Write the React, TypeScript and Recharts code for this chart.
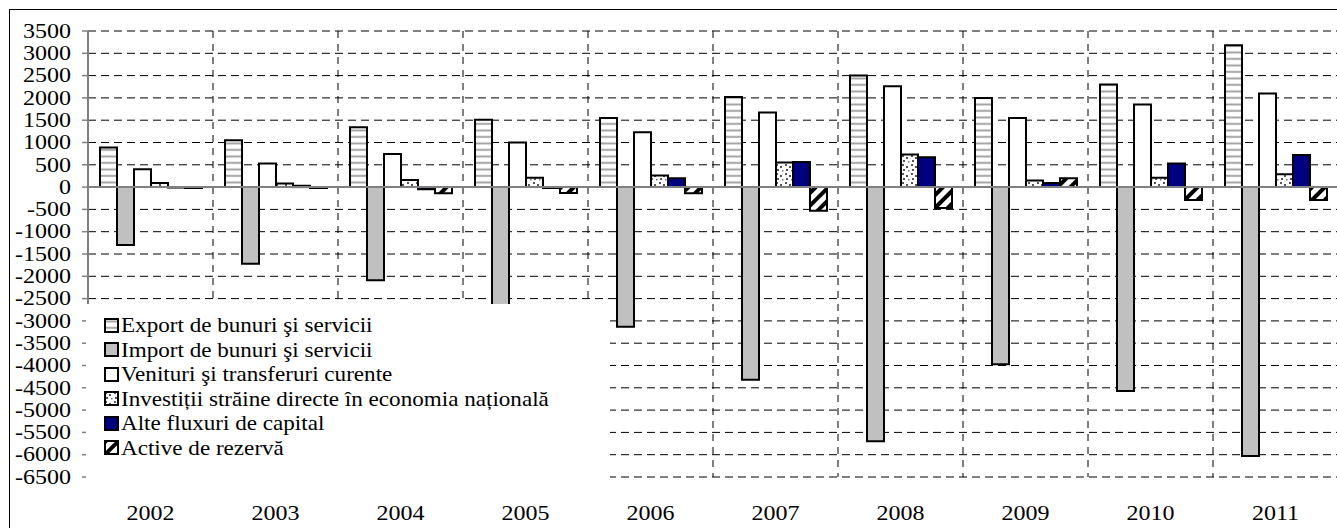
import {
  BarChart,
  Bar,
  XAxis,
  YAxis,
  CartesianGrid,
  Legend,
  ReferenceLine,
} from 'recharts';

// Balance of payments components, mil. USD
const years = ['2002', '2003', '2004', '2005', '2006', '2007', '2008', '2009', '2010', '2011'];
const exportVals = [890, 1050, 1340, 1510, 1550, 2020, 2500, 2000, 2300, 3180];
const importVals = [-1300, -1720, -2090, -2850, -3130, -4320, -5700, -3970, -4570, -6030];
const venituriVals = [400, 530, 740, 1000, 1230, 1670, 2260, 1550, 1850, 2100];
const investitiiVals = [90, 80, 160, 210, 260, 550, 730, 150, 210, 290];
const alteVals = [-10, 30, -50, -20, 200, 560, 670, 90, 530, 720];
const activeVals = [-20, -20, -140, -130, -140, -530, -470, 200, -290, -290];
const yTicks = [
  3500, 3000, 2500, 2000, 1500, 1000, 500, 0, -500, -1000, -1500, -2000, -2500,
  -3000, -3500, -4000, -4500, -5000, -5500, -6000, -6500,
];

const data = years.map((year, i) => ({
  year,
  export: exportVals[i],
  import: importVals[i],
  venituri: venituriVals[i],
  investitii: investitiiVals[i],
  alte: alteVals[i],
  active: activeVals[i],
}));

const series = [
  { key: 'export', name: 'Export de bunuri şi servicii', fill: 'url(#pat-export)' },
  { key: 'import', name: 'Import de bunuri şi servicii', fill: '#c0c0c0' },
  { key: 'venituri', name: 'Venituri şi transferuri curente', fill: '#ffffff' },
  { key: 'investitii', name: 'Investiții străine directe în economia națională', fill: 'url(#pat-dots)' },
  { key: 'alte', name: 'Alte fluxuri de capital', fill: '#000080' },
  { key: 'active', name: 'Active de rezervă', fill: 'url(#pat-diag)' },
];

const serif = "'Liberation Serif', 'Times New Roman', Times, serif";
const STRETCH = 1.2; // axis digits in the original are a bit wider than plain Times

const YTick = (props: any) => {
  const { x, y, payload } = props;
  return (
    <text
      x={0}
      y={0}
      transform={`translate(${x},${y}) scale(${STRETCH},1)`}
      textAnchor="end"
      dominantBaseline="central"
      style={{ fontFamily: serif }}
      fontSize={20}
      fill="#000"
    >
      {payload.value}
    </text>
  );
};

const XTick = (props: any) => {
  const { x, y, payload } = props;
  return (
    <text
      x={0}
      y={0}
      transform={`translate(${x},${y + 34}) scale(${STRETCH},1)`}
      textAnchor="middle"
      dominantBaseline="central"
      style={{ fontFamily: serif }}
      fontSize={20}
      fill="#000"
    >
      {payload.value}
    </text>
  );
};

const LegendBox = () => (
  <div style={{ background: '#fff', width: '100%', height: '100%', paddingTop: 9, paddingLeft: 18, boxSizing: 'border-box' }}>
    {series.map((s) => (
      <div key={s.key} style={{ display: 'flex', alignItems: 'center', height: 24.5 }}>
        <svg width={15} height={15} style={{ flex: 'none' }}>
          <rect x={1} y={1} width={13} height={13} fill={s.fill} stroke="#000" strokeWidth={2} />
        </svg>
        <span
          style={{
            display: 'inline-block',
            marginLeft: 2,
            fontFamily: serif,
            fontSize: 21,
            lineHeight: '24px',
            color: '#000',
            whiteSpace: 'nowrap',
            transform: 'scaleX(1.1)',
            transformOrigin: 'left center',
          }}
        >
          {s.name}
        </span>
      </div>
    ))}
  </div>
);

export default function App() {
  const verticalLines = ({ offset }: any) =>
    years.slice(1).map((_, i) => offset.left + ((i + 1) * offset.width) / years.length);

  return (
    <div
      style={{
        position: 'absolute',
        left: 9,
        top: 9,
        width: 1327,
        height: 519,
        overflow: 'hidden',
        borderLeft: '1px solid #000',
        borderTop: '1px solid #000',
        background: '#fff',
      }}
    >
      <BarChart
        width={1330}
        height={520}
        data={data}
        margin={{ top: 21, right: 2, left: 0, bottom: 0 }}
        barGap={0}
        barSize={17}
      >
        <defs>
          <pattern id="pat-export" width={6} height={6.5} patternUnits="userSpaceOnUse">
            <rect width={6} height={6.5} fill="#fff" />
            <rect y={2.5} width={6} height={1.8} fill="#9a9a9a" />
          </pattern>
          <pattern id="pat-dots" width={9} height={9} patternUnits="userSpaceOnUse">
            <rect width={9} height={9} fill="#fff" />
            <rect x={1} y={1} width={2} height={2} fill="#555" />
            <rect x={5} y={3} width={2} height={2} fill="#555" />
            <rect x={2} y={6} width={2} height={2} fill="#555" />
            <rect x={7} y={7} width={1.5} height={1.5} fill="#777" />
          </pattern>
          <pattern
            id="pat-diag"
            width={9}
            height={9}
            patternUnits="userSpaceOnUse"
            patternTransform="rotate(45)"
          >
            <rect width={9} height={9} fill="#fff" />
            <rect width={4} height={9} fill="#000" />
          </pattern>
        </defs>
        <CartesianGrid
          vertical={false}
          stroke="#000"
          strokeDasharray="8 5"
          strokeWidth={1}
        />
        <CartesianGrid
          horizontal={false}
          stroke="#000"
          strokeDasharray="7 6"
          strokeWidth={1}
          verticalCoordinatesGenerator={verticalLines}
        />
        <XAxis
          dataKey="year"
          axisLine={false}
          tickLine={false}
          tickSize={0}
          height={53}
          interval={0}
          tick={<XTick />}
        />
        <YAxis
          width={78}
          domain={[-6500, 3500]}
          ticks={yTicks}
          interval={0}
          axisLine={{ stroke: '#808080', strokeWidth: 2 }}
          tickLine={{ stroke: '#808080', strokeWidth: 1.5 }}
          tickSize={6}
          tickMargin={11}
          tick={<YTick />}
        />
        {series.map((s) => (
          <Bar
            key={s.key}
            dataKey={s.key}
            name={s.name}
            fill={s.fill}
            stroke="#000"
            strokeWidth={2}
            isAnimationActive={false}
          />
        ))}
        <ReferenceLine y={0} stroke="#808080" strokeWidth={2} />
        <Legend
          layout="vertical"
          align="center"
          verticalAlign="middle"
          content={<LegendBox />}
          wrapperStyle={{ left: 76, top: 294, width: 524, height: 190 }}
        />
      </BarChart>
    </div>
  );
}
